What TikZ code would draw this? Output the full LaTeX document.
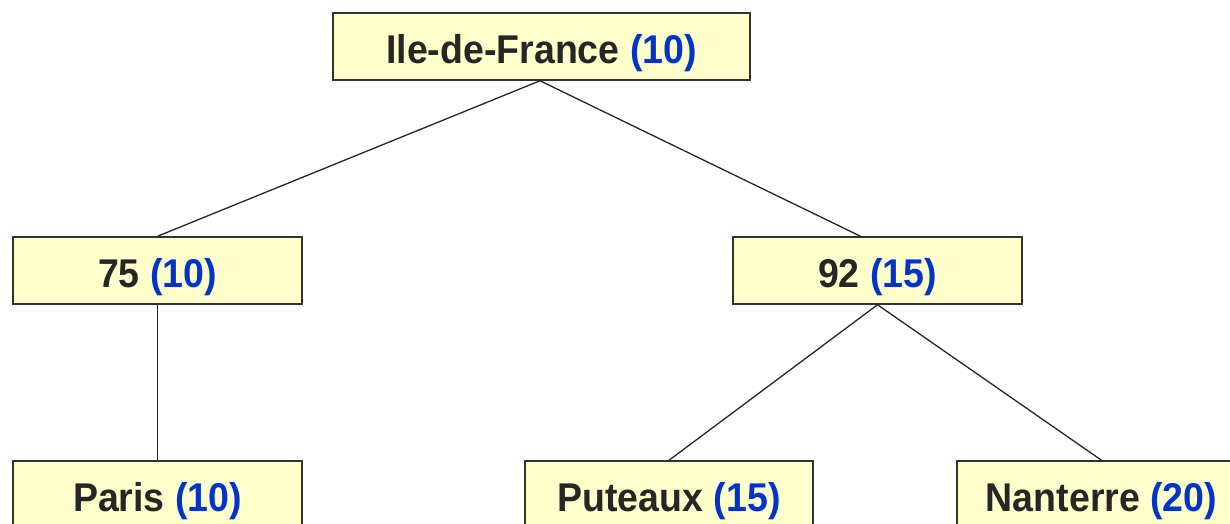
\documentclass[tikz,border=0pt]{standalone}
\usepackage{fontspec}
\setmainfont{Liberation Sans}
\definecolor{boxfill}{HTML}{FFFFCC}
\definecolor{boxline}{HTML}{333333}
\definecolor{txt}{HTML}{262626}
\definecolor{num}{HTML}{0033CC}
\begin{document}
\begin{tikzpicture}[x=1pt,y=-1pt,
  tbox/.style={draw=boxline, fill=boxfill, line width=1.5pt, minimum height=67pt,
    inner sep=0pt, text=txt, text height=33pt, text depth=0pt,
    font=\fontsize{37.5}{40}\selectfont\bfseries},
  conn/.style={draw=black!85, line width=1.3pt}]
\useasboundingbox (0,0) rectangle (1230,523);
\newcommand{\cnt}[1]{\textcolor{num}{(#1)}}
\newcommand{\tall}[1]{\scalebox{1}[1.07]{#1}}
\node[tbox, minimum width=417pt] (idf) at (541.5,46.5) {\tall{Ile-de-France \cnt{10}}};
\node[tbox, minimum width=289pt] (d75) at (157.5,270.5) {\tall{75 \cnt{10}}};
\node[tbox, minimum width=289pt] (d92) at (877.5,270.5) {\tall{92 \cnt{15}}};
\node[tbox, minimum width=289pt] (paris) at (157.5,494.5) {\tall{Paris \cnt{10}}};
\node[tbox, minimum width=288pt] (puteaux) at (669,494.5) {\tall{Puteaux \cnt{15}}};
\node[tbox, minimum width=289pt] (nanterre) at (1101.5,494.5) {\tall{Nanterre \cnt{20}}};
\draw[conn] ([xshift=-1.5pt]idf.south) -- (d75.north);
\draw[conn] ([xshift=-1.5pt]idf.south) -- ([xshift=-17pt]d92.north);
\draw[conn] (d75.south) -- (paris.north);
\draw[conn] (d92.south) -- (puteaux.north);
\draw[conn] (d92.south) -- (nanterre.north);
\end{tikzpicture}
\end{document}
